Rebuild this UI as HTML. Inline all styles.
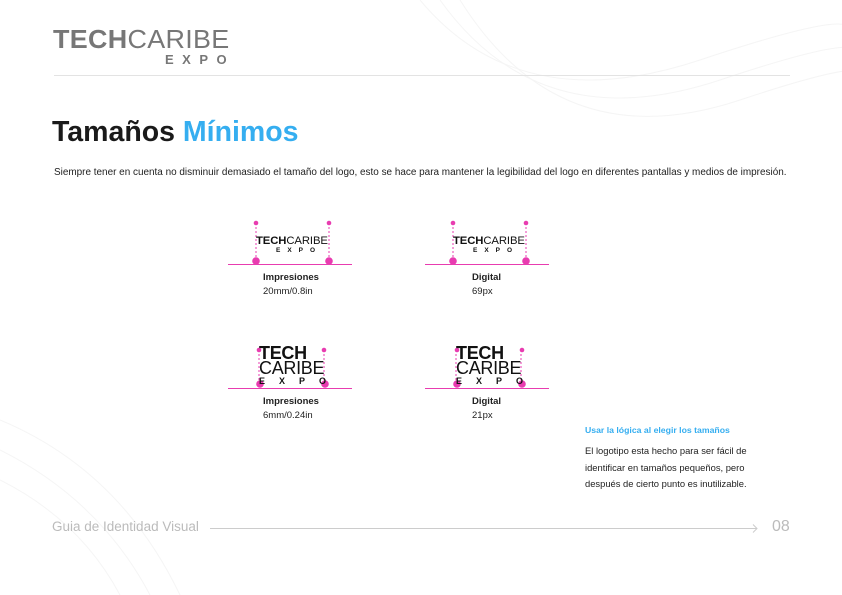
<!DOCTYPE html>
<html><head><meta charset="utf-8"><style>
body{margin:0;width:842px;height:595px;background:#fff;position:relative;overflow:hidden;font-family:"Liberation Sans",sans-serif}
.a{position:absolute;white-space:nowrap}
.lg{font-family:"Liberation Sans",sans-serif;color:#111}
.lbl{font-size:9.5px;color:#222;line-height:13.5px}
</style></head><body>
<svg class="a" style="left:0;top:0" width="842" height="595">
<g fill="none" stroke="#f5f5f5" stroke-width="1">
<path d="M420 0 Q520 120 700 60 T842 40"/><path d="M440 0 Q540 140 720 80 T842 70"/><path d="M460 0 Q560 160 740 100 T842 100"/>
<path d="M0 420 Q120 470 180 595"/><path d="M0 450 Q100 500 150 595"/><path d="M0 480 Q80 520 120 595"/>
</g>
<line x1="54" y1="75.5" x2="790" y2="75.5" stroke="#e3e3e3"/>
<line x1="210" y1="528.5" x2="757" y2="528.5" stroke="#ccc"/>
<path d="M753 524.5 L757 528.5 L753 532.5" fill="none" stroke="#ccc"/>
<g stroke="#e83cb0" stroke-width="1">
<line x1="228" y1="264.5" x2="352" y2="264.5"/><line x1="425" y1="264.5" x2="549" y2="264.5"/>
<line x1="228" y1="388.5" x2="352" y2="388.5"/><line x1="425" y1="388.5" x2="549" y2="388.5"/>
<g stroke-dasharray="2,2"><line x1="256" y1="223" x2="256" y2="261"/><line x1="329" y1="223" x2="329" y2="261"/>
<line x1="453" y1="223" x2="453" y2="261"/><line x1="526" y1="223" x2="526" y2="261"/>
<line x1="259" y1="350" x2="259" y2="384"/><line x1="324" y1="350" x2="324" y2="384"/>
<line x1="456" y1="350" x2="456" y2="384"/><line x1="521" y1="350" x2="521" y2="384"/></g>
</g>
<g fill="#e83cb0">
<circle cx="256" cy="223" r="2.3"/><circle cx="329" cy="223" r="2.3"/><circle cx="256" cy="261" r="3.8"/><circle cx="329" cy="261" r="3.8"/>
<circle cx="453" cy="223" r="2.3"/><circle cx="526" cy="223" r="2.3"/><circle cx="453" cy="261" r="3.8"/><circle cx="526" cy="261" r="3.8"/>
<circle cx="259" cy="350" r="2.3"/><circle cx="324" cy="350" r="2.3"/><circle cx="260" cy="384" r="3.8"/><circle cx="325" cy="384" r="3.8"/>
<circle cx="457" cy="350" r="2.3"/><circle cx="522" cy="350" r="2.3"/><circle cx="457" cy="384" r="3.8"/><circle cx="522" cy="384" r="3.8"/>
</g>
</svg>

<div class="a" style="left:53px;top:24px;color:#777;font-size:26px;line-height:30px;letter-spacing:0.3px;transform:scaleX(1.035);transform-origin:left top"><b style="font-weight:900">TECH</b>CARIBE</div>
<div class="a" style="left:165px;top:52px;color:#777;font-size:13px;font-weight:bold;letter-spacing:8.5px">EXPO</div>

<div class="a" style="left:52px;top:116px;font-size:28.5px;font-weight:bold;color:#1a1a1a">Tamaños <span style="color:#35aef0">Mínimos</span></div>
<div class="a" style="left:54px;top:167px;font-size:9.95px;color:#222">Siempre tener en cuenta no disminuir demasiado el tamaño del logo, esto se hace para mantener la legibilidad del logo en diferentes pantallas y medios de impresión.</div>

<div class="a lg" style="left:256px;top:235px;font-size:11.3px;letter-spacing:-0.1px"><b style="font-weight:900">TECH</b>CARIBE</div>
<div class="a lg" style="left:276px;top:247px;font-size:6.5px;font-weight:bold;letter-spacing:7px">EXPO</div>
<div class="a lg" style="left:453px;top:235px;font-size:11.3px;letter-spacing:-0.1px"><b style="font-weight:900">TECH</b>CARIBE</div>
<div class="a lg" style="left:473px;top:247px;font-size:6.5px;font-weight:bold;letter-spacing:7px">EXPO</div>

<div class="a lg" style="left:259px;top:346px;font-size:18px;line-height:14.5px;letter-spacing:-0.3px"><b style="font-weight:900">TECH</b><br>CARIBE</div>
<div class="a lg" style="left:259px;top:376px;font-size:9px;font-weight:bold;letter-spacing:14px">EXPO</div>
<div class="a lg" style="left:456px;top:346px;font-size:18px;line-height:14.5px;letter-spacing:-0.3px"><b style="font-weight:900">TECH</b><br>CARIBE</div>
<div class="a lg" style="left:456px;top:376px;font-size:9px;font-weight:bold;letter-spacing:14px">EXPO</div>

<div class="a lbl" style="left:263px;top:271px"><b>Impresiones</b><br>20mm/0.8in</div>
<div class="a lbl" style="left:472px;top:271px"><b>Digital</b><br>69px</div>
<div class="a lbl" style="left:263px;top:395px"><b>Impresiones</b><br>6mm/0.24in</div>
<div class="a lbl" style="left:472px;top:395px"><b>Digital</b><br>21px</div>

<div class="a" style="left:585px;top:425px;font-size:8.7px;font-weight:bold;color:#35aef0">Usar la lógica al elegir los tamaños</div>
<div class="a" style="left:585px;top:443px;font-size:9.4px;line-height:16.5px;color:#222">El logotipo esta hecho para ser fácil de<br>identificar en tamaños pequeños, pero<br>después de cierto punto es inutilizable.</div>

<div class="a" style="left:52px;top:519px;font-size:13.5px;color:#bbb">Guia de Identidad Visual</div>
<div class="a" style="left:772px;top:518px;font-size:16px;color:#bbb">08</div>
</body></html>
